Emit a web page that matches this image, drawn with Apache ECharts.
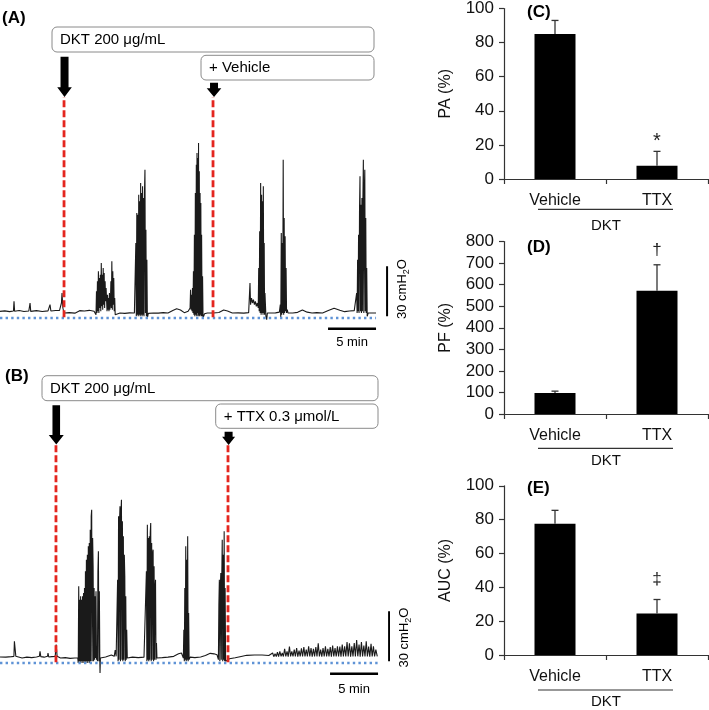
<!DOCTYPE html>
<html>
<head>
<meta charset="utf-8">
<script src="https://cdn.jsdelivr.net/npm/echarts@6/dist/echarts.min.js"></script>
<style>
html,body{margin:0;padding:0;background:#fff;}
#chart{width:709px;height:710px;}
</style>
</head>
<body>
<div id="chart"></div>
<script>
// ---------------- DATA ----------------
// Panel A trace: [time (min), pressure (cmH2O)]
const traceA = [
[0,4],[0.5,4.3],[1.0,3.8],[1.4,4.2],[1.46,10],[1.52,4],[2.0,4.5],[2.5,3.9],[3.0,4.2],[3.13,9],[3.2,4],[3.8,4.4],[4.4,3.9],[5.0,4.3],[5.21,8],[5.3,4.2],[5.8,4.5],[6.2,4.6],[6.4,9],[6.46,15],[6.55,6],[6.67,3],[7.2,3.2],[7.8,2.9],[8.3,4.4],[8.8,4.2],[9.3,4.6],[9.8,4.0],
[9.95,4],[10.0,2],[10.05,16],[10.1,3],[10.15,22],[10.2,4],[10.25,28],[10.3,3],[10.35,24],[10.4,6],[10.45,26],[10.5,4],[10.55,33],[10.6,7],[10.65,26],[10.7,5],[10.75,30],[10.8,8],[10.85,27],[10.9,6],[10.95,22],[11.0,10],[11.05,18],[11.1,11],[11.15,4],[11.2,14],[11.25,5],[11.3,12],[11.35,4],[11.4,15],[11.45,5],[11.5,9],[11.55,22],[11.6,6],[11.65,34],[11.7,5],[11.75,28],[11.8,8],[11.85,24],[11.9,4],[11.95,12],[12.0,2],[12.1,2.8],
[12.5,3],[13.0,2.8],[13.5,3.1],[14.0,3],
[14.05,3],[14.1,2],[14.15,45],[14.2,1],[14.25,63],[14.3,2],[14.35,62],[14.4,1],[14.45,74],[14.5,2],[14.55,70],[14.6,1],[14.65,81],[14.7,2],[14.75,75],[14.8,1],[14.85,79],[14.9,2],[14.95,72],[15.0,1],[15.05,75],[15.1,89],[15.15,3],[15.2,53],[15.25,1],[15.3,35],[15.35,0],[15.45,2.8],
[16.0,3],[16.5,2.9],[17.0,3.2],[17.5,3],[18.0,4.5],[18.4,5.5],[18.8,4.8],[19.2,3.2],[19.6,4],
[19.8,6],[19.85,17],[19.9,5],[19.95,14],[20.0,4],[20.05,18],[20.1,3],[20.15,28],[20.2,2],[20.25,50],[20.3,1],[20.35,75],[20.4,2],[20.45,92],[20.5,1],[20.52,99],[20.55,3],[20.6,96],[20.65,1],[20.68,105],[20.72,2],[20.76,88],[20.8,1],[20.84,75],[20.88,2],[20.92,69],[20.96,1],[21.0,50],[21.05,1],[21.1,25],[21.15,0],[21.2,-1],[21.3,2.5],
[21.6,3],[22.2,3],[22.8,3.3],[23.3,4.8],[23.7,4.2],[24.2,3],[24.8,3.1],[25.4,2.9],[25.9,3.2],
[26.0,4],[26.04,21],[26.1,8],[26.2,12],[26.3,9],[26.4,11],[26.5,8],[26.6,10],[26.7,7],[26.8,9],[26.9,6],[26.95,30],[27.0,4],[27.05,52],[27.1,3],[27.15,81],[27.2,2],[27.25,74],[27.3,3],[27.35,70],[27.4,2],[27.43,79],[27.48,3],[27.52,45],[27.56,2],[27.6,15],[27.7,1],[27.78,-1],[27.85,3],
[28.2,3],[28.7,3.1],
[29.1,3.5],[29.2,8],[29.25,0],[29.3,51],[29.35,2],[29.4,45],[29.45,3],[29.5,95],[29.55,2],[29.6,60],[29.65,3],[29.7,49],[29.75,4],[29.8,30],[29.85,3],[29.93,5],[30.0,3],
[30.5,3],[31.0,3.4],[31.5,4.8],[32.0,3.5],[32.5,3],[33.0,3.2],[33.6,3],[34.2,4.5],[34.8,5.8],[35.4,4.6],[35.9,3.8],[36.4,4.2],[36.9,4.4],
[37.1,5],[37.15,15],[37.2,3],[37.25,35],[37.3,4],[37.35,50],[37.4,3],[37.45,65],[37.5,85],[37.55,4],[37.6,68],[37.65,3],[37.7,72],[37.75,4],[37.8,70],[37.85,95],[37.9,3],[37.95,75],[38.0,89],[38.05,4],[38.1,60],[38.15,3],[38.2,30],[38.25,1],[38.35,3],
[38.8,3],[39.17,3]
];

// Panel B trace: [time (min), pressure (cmH2O)]
const traceB = [
[0,3.6],[0.6,3.5],[1.2,3.8],[1.45,4],[1.5,13],[1.6,12],[1.65,4],[1.8,3.4],[2.3,3],[2.8,3.5],[3.3,3.2],[3.8,3.6],[4.1,4],[4.17,7],[4.25,3.8],[4.6,3.5],[4.95,4],[5.0,6],[5.08,3.6],[5.4,3.8],[5.75,4],[5.85,11],[5.95,4],
[6.3,3],[6.8,3.2],[7.3,2.8],[7.8,3],
[8.1,3],[8.15,0],[8.2,46],[8.25,1],[8.3,38],[8.35,0],[8.4,40],[8.45,1],[8.5,38],[8.55,0],[8.6,40],[8.65,1],[8.7,42],[8.75,0],[8.8,45],[8.85,1],[8.9,55],[8.95,0],[9.0,62],[9.05,1],[9.1,65],[9.15,0],[9.2,70],[9.25,1],[9.3,72],[9.35,0],[9.4,80],[9.45,1],[9.5,88],[9.55,92],[9.6,1],[9.65,75],[9.7,58],[9.75,1],[9.8,45],[9.85,2],[9.9,40],[9.95,3],[10.0,43],[10.05,2],[10.1,10],[10.15,1],[10.2,55],[10.25,67],[10.3,1],[10.35,43],[10.4,0],[10.42,-6],[10.46,3],[10.55,4],
[11.0,3.6],[11.6,4.8],[11.9,4],[12.0,7.8],[12.1,4],
[12.2,3],[12.25,50],[12.3,1],[12.35,88],[12.4,2],[12.45,85],[12.5,94],[12.55,1],[12.6,90],[12.65,98],[12.7,2],[12.75,85],[12.8,1],[12.85,76],[12.9,2],[12.95,65],[13.0,52],[13.05,1],[13.1,40],[13.15,2],[13.2,20],[13.26,3],
[13.8,3.5],[14.4,3.2],[15.0,3.5],
[15.2,3],[15.25,55],[15.3,1],[15.35,83],[15.4,2],[15.45,75],[15.5,1],[15.55,76],[15.6,2],[15.65,78],[15.7,84],[15.75,1],[15.8,72],[15.85,2],[15.9,66],[15.95,68],[16.0,1],[16.05,58],[16.1,2],[16.15,45],[16.2,50],[16.25,2],[16.3,12],[16.35,3],
[16.9,3.2],[17.5,3.5],[18.1,4],[18.6,5.5],[18.9,6],[19.05,5],
[19.1,3],[19.15,20],[19.2,1],[19.25,45],[19.3,2],[19.35,70],[19.4,1],[19.45,62],[19.5,2],[19.55,76],[19.6,1],[19.65,30],[19.7,2],[19.8,3.5],
[20.3,3.2],[20.9,3.6],[21.4,4.5],[21.9,5.8],[22.3,5.5],[22.6,5],
[22.7,4],[22.75,2],[22.8,35],[22.85,50],[22.9,1],[22.95,45],[23.0,54],[23.05,2],[23.1,50],[23.15,74],[23.2,1],[23.25,65],[23.3,2],[23.35,79],[23.4,1],[23.45,45],[23.5,1],[23.55,0],[23.65,2],
[23.9,2.5],[24.5,3.2],[25.0,3.8],[25.7,4.6],[26.5,4.8],[27.3,4.8],[28.0,4.5],
[28.4,6],[28.52,3.8],[28.65,5.5],[28.78,3.9],[28.9,6.5],[29.02,3.8],[29.15,7],[29.28,4],[29.4,6],[29.52,3.9],[29.65,8.5],[29.77,4],[29.9,7],[30.02,3.8],[30.15,9.8],[30.27,4],[30.4,7],[30.52,3.9],[30.65,8],[30.77,4],[30.9,9],[31.02,3.8],[31.15,7.5],[31.27,4],[31.4,8.8],[31.52,3.9],[31.65,9.5],[31.77,4],[31.9,8],[32.02,3.9],[32.15,10],[32.27,4],[32.4,9],[32.52,3.8],[32.65,8.5],[32.77,4],[32.9,9.5],[33.02,3.9],[33.15,11.8],[33.27,4],[33.4,8],[33.52,3.8],[33.65,9],[33.77,4],[33.9,10],[34.02,3.9],[34.15,8.5],[34.27,4],[34.4,9.5],[34.52,3.8],[34.65,10.5],[34.77,4],[34.9,9],[35.02,3.9],[35.15,10],[35.27,4],[35.4,9.8],[35.52,3.8],[35.65,11],[35.77,4],[35.9,10],[36.02,3.9],[36.15,12.5],[36.27,4],[36.4,11.8],[36.52,3.8],[36.65,10],[36.77,4],[36.9,12],[37.02,3.9],[37.15,13.8],[37.27,4],[37.4,11],[37.52,3.8],[37.65,12.5],[37.77,4],[37.9,10.5],[38.02,3.9],[38.15,13],[38.27,4],[38.4,9.8],[38.52,3.8],[38.65,11.5],[38.77,4],[38.9,10],[39.02,3.9],[39.15,8],[39.3,4]
];

const traceEndA = 39.17;
const traceEndB = 39.38;
const treatTimesA = [6.67, 22.19];   // DKT, + Vehicle
const treatTimesB = [5.83, 23.75];   // DKT, + TTX
const scaleMin = 5;                  // horizontal scale bar (min)
const scaleP = 30;                   // vertical scale bar (cmH2O)

const boxLabelsA = ['DKT 200 μg/mL', '+ Vehicle'];
const boxLabelsB = ['DKT 200 μg/mL', '+ TTX 0.3 μmol/L'];

// Bar panels
const barCategories = ['Vehicle', 'TTX'];
const paMean = [85, 7.7];
const paErr = [8, 8.5];
const pfMean = [97, 572];
const pfErr = [9, 120];
const aucMean = [77.5, 24.5];
const aucErr = [8, 8.3];
const paSig = ['', '*'];
const pfSig = ['', '†'];
const aucSig = ['', '‡'];

// ---------------- CHART ----------------
const FONT = 'Liberation Sans, Arial, sans-serif';
const chart = echarts.init(document.getElementById('chart'), null, {renderer: 'canvas'});

const PX_PER_MIN = 9.6, PX_PER_P = 50 / 30;
const yMinT = -10, yMaxT = 133;
function traceGrid(baselineY) {
  return {left: 0, top: baselineY - yMaxT * PX_PER_P, width: 40.5 * PX_PER_MIN,
          height: (yMaxT - yMinT) * PX_PER_P};
}

function traceSeries(idx, trace, end, treat, pTop) {
  const s = [];
  s.push({type: 'line', xAxisIndex: idx, yAxisIndex: idx, data: trace, symbol: 'none',
          lineStyle: {color: '#1a1a1a', width: 1.1}, z: 2, silent: true, animation: false});
  s.push({type: 'line', xAxisIndex: idx, yAxisIndex: idx, data: [[0, 0], [end, 0]], symbol: 'none',
          lineStyle: {color: '#5f93d6', width: 2.6, type: [2.4, 3.2]}, z: 3, animation: false});
  treat.forEach(t => s.push({type: 'line', xAxisIndex: idx, yAxisIndex: idx,
          data: [[t, 0.5], [t, pTop]], symbol: 'none',
          lineStyle: {color: '#e4261f', width: 2.8, type: [7, 3]}, z: 4, animation: false}));
  // scale bars
  s.push({type: 'line', xAxisIndex: idx, yAxisIndex: idx, data: [[end + 1.15, 1], [end + 1.15, 1 + scaleP]],
          symbol: 'none', lineStyle: {color: '#000', width: 2}, z: 4, animation: false});
  s.push({type: 'line', xAxisIndex: idx, yAxisIndex: idx, data: [[end - scaleMin, -6.5], [end, -6.5]],
          symbol: 'none', lineStyle: {color: '#000', width: 2.5}, z: 4, animation: false});
  return s;
}

function barGrid(top) { return {left: 504, top: top, width: 204, height: 172.5}; }

function catAxis(gi) {
  return {type: 'category', gridIndex: gi, data: barCategories,
    axisLine: {lineStyle: {color: '#333', width: 1.2}},
    axisTick: {show: true, alignWithLabel: false, length: 5, lineStyle: {color: '#333', width: 1.2}},
    axisLabel: {fontSize: 16, color: '#111', margin: 14, fontFamily: FONT},
    name: 'DKT', nameLocation: 'middle', nameGap: 39,
    nameTextStyle: {fontSize: 15, color: '#111', fontFamily: FONT}};
}
function valAxis(gi, max, interval, name) {
  return {type: 'value', gridIndex: gi, min: 0, max: max, interval: interval,
    name: name, nameLocation: 'middle', nameRotate: 90, nameGap: 50,
    nameTextStyle: {fontSize: 16, color: '#111', fontFamily: FONT},
    axisLine: {show: true, lineStyle: {color: '#333', width: 1.2}},
    axisTick: {show: true, length: 5, lineStyle: {color: '#333', width: 1.2}},
    axisLabel: {fontSize: 17, color: '#111', margin: 10, fontFamily: FONT},
    splitLine: {show: false}};
}
function errRender(sig, gap, fs) {
  return function (params, api) {
    const i = api.value(0), mean = api.value(1), top = api.value(2);
    const p0 = api.coord([i, mean]), p1 = api.coord([i, top]);
    const st = {stroke: '#333', lineWidth: 1.3};
    const ch = [
      {type: 'line', shape: {x1: p0[0], y1: p0[1], x2: p1[0], y2: p1[1]}, style: st},
      {type: 'line', shape: {x1: p1[0] - 3.5, y1: p1[1], x2: p1[0] + 3.5, y2: p1[1]}, style: st}
    ];
    if (sig[i]) ch.push({type: 'text', style: {text: sig[i], x: p1[0], y: p1[1] - gap,
        textAlign: 'center', textVerticalAlign: 'bottom', font: fs + 'px ' + FONT, fill: '#222'}});
    return {type: 'group', children: ch};
  };
}
function barSeries(gi, mean, err, sig, gap, fs) {
  return [
    {type: 'bar', xAxisIndex: gi, yAxisIndex: gi, data: mean, barWidth: 41,
     itemStyle: {color: '#000'}, animation: false, z: 2},
    {type: 'custom', xAxisIndex: gi, yAxisIndex: gi, renderItem: errRender(sig, gap, fs),
     data: mean.map((m, i) => [i, m, m + err[i]]), z: 3, animation: false}
  ];
}

const option = {
  backgroundColor: '#fff',
  textStyle: {fontFamily: FONT},
  animation: false,
  grid: [traceGrid(318), traceGrid(663), barGrid(6.5), barGrid(241.5), barGrid(485.8)],
  xAxis: [
    {type: 'value', gridIndex: 0, min: 0, max: 40.5, show: false},
    {type: 'value', gridIndex: 1, min: 0, max: 40.5, show: false},
    catAxis(2), catAxis(3), catAxis(4)
  ],
  yAxis: [
    {type: 'value', gridIndex: 0, min: yMinT, max: yMaxT, show: false},
    {type: 'value', gridIndex: 1, min: yMinT, max: yMaxT, show: false},
    valAxis(2, 100, 20, 'PA (%)'), valAxis(3, 800, 100, 'PF (%)'), valAxis(4, 100, 20, 'AUC (%)')
  ],
  series: [].concat(
    traceSeries(0, traceA, traceEndA, treatTimesA, 132.6),
    traceSeries(1, traceB, traceEndB, treatTimesB, 130.8),
    barSeries(2, paMean, paErr, paSig, 0, 20),
    barSeries(3, pfMean, pfErr, pfSig, 6, 17),
    barSeries(4, aucMean, aucErr, aucSig, 12, 17)
  )
};
chart.setOption(option);

// ---------------- ANNOTATIONS ----------------
function px(idx, t, v) { return chart.convertToPixel({xAxisIndex: idx, yAxisIndex: idx}, [t, v]); }
function arrow(cx, y0, y1, y2, hw, hh) {
  return {type: 'polygon', shape: {points: [[cx - hw, y0], [cx + hw, y0], [cx + hw, y1], [cx + hh, y1],
          [cx, y2], [cx - hh, y1], [cx - hw, y1]]}, style: {fill: '#000'}, z: 10};
}
function box(x, y, w, h, label) {
  return [
    {type: 'rect', shape: {x: x, y: y, width: w, height: h, r: 5},
     style: {fill: '#fff', stroke: '#8a8a8a', lineWidth: 1}, z: 10},
    {type: 'text', style: {text: label, x: x + 8, y: y + h / 2 + 0.5, textVerticalAlign: 'middle',
     font: '15px ' + FONT, fill: '#000'}, z: 11}
  ];
}
function txt(text, x, y, font, align) {
  return {type: 'text', style: {text: text, x: x, y: y, textAlign: align || 'left',
          textVerticalAlign: 'middle', font: font, fill: '#000'}, z: 11};
}
function pressLabel(x, y) {
  return {type: 'text', x: x, y: y, rotation: Math.PI / 2, z: 11,
    style: {text: '30 cmH{s|2}O', x: 0, y: 0, textAlign: 'center', textVerticalAlign: 'middle',
      font: '13px ' + FONT, fill: '#000',
      rich: {s: {fontSize: 9, verticalAlign: 'bottom', lineHeight: 18, fontFamily: FONT}}}};
}
function line(x1, y1, x2, y2) {
  return {type: 'line', shape: {x1: x1, y1: y1, x2: x2, y2: y2}, style: {stroke: '#333', lineWidth: 1.2}, z: 11};
}

const aDKT = px(0, treatTimesA[0], 0)[0], aVeh = px(0, treatTimesA[1], 0)[0];
const bDKT = px(1, treatTimesB[0], 0)[0], bTTX = px(1, treatTimesB[1], 0)[0];
const aBarX = px(0, traceEndA + 1.15, 0)[0], bBarX = px(1, traceEndB + 1.15, 0)[0];
const aMinX = px(0, traceEndA - scaleMin / 2, 0)[0], bMinX = px(1, traceEndB - scaleMin / 2, 0)[0];

const graphics = [].concat(
  [txt('(A)', 2, 18, 'bold 17px ' + FONT), txt('(B)', 5, 376, 'bold 17px ' + FONT),
   txt('(C)', 527, 12, 'bold 17px ' + FONT), txt('(D)', 527, 247, 'bold 17px ' + FONT),
   txt('(E)', 527, 488, 'bold 17px ' + FONT)],
  box(52, 27, 322, 25, boxLabelsA[0]), box(201, 55.3, 173, 24.7, boxLabelsA[1]),
  box(42, 375.7, 336, 25, boxLabelsB[0]), box(215.7, 404, 162.3, 24.3, boxLabelsB[1]),
  [arrow(aDKT + 0.5, 56.7, 87.3, 97, 4, 7.3), arrow(aVeh + 1, 82.7, 88.3, 97, 4, 7.3),
   arrow(bDKT + 0.3, 405.3, 435, 444.5, 3.8, 7.5), arrow(bTTX + 0.6, 431.7, 436.7, 445, 4, 6.5)],
  [pressLabel(aBarX + 15, 289), pressLabel(bBarX + 15, 637.5),
   txt('5 min', aMinX, 342, '13px ' + FONT, 'center'), txt('5 min', bMinX, 689, '13px ' + FONT, 'center')],
  [line(538, 209.3, 673, 209.3), line(538, 448.3, 673, 448.3), line(538, 690, 673, 690)]
);
chart.setOption({graphic: {elements: graphics}});
</script>
</body>
</html>
